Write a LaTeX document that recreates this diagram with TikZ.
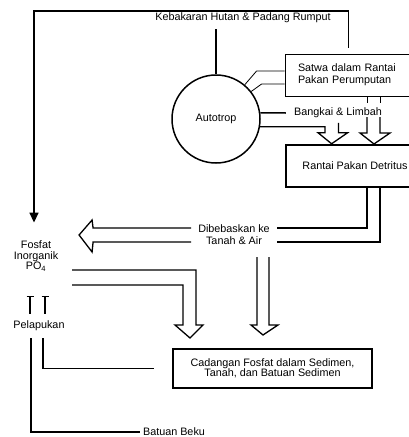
\documentclass[tikz,border=0pt]{standalone}
\usepackage{fontspec}
\setmainfont{Liberation Sans}
\usetikzlibrary{arrows.meta}
\usetikzlibrary{calc}
\tikzstyle{txt} = [align=center, inner sep=2pt]
\tikzstyle{pool} = [rectangle, black, draw, line width=1.5pt, align=center]
\tikzstyle{autotroph} = [circle, black, draw, line width=1.5pt,
                         minimum size=88pt, inner sep=0pt]
\tikzstyle{flow} = [line width=1.5pt]
\tikzstyle{hollow} = [line width=1.3pt, line join=miter]
\tikzstyle{thinline} = [line width=0.8pt]
\tikzstyle{medium} = [line width=1.1pt]

\begin{document}
\begin{tikzpicture}[x=1pt,y=-1pt,font=\fontsize{10.8}{12}\selectfont]
    \useasboundingbox (0,0) rectangle (409,437);
    \clip (0,0) rectangle (409,437);
    \node[txt] (fire) at (243,18) {Kebakaran Hutan \& Padang Rumput};
    \node[autotroph] (autotrop) at (216,119) {Autotrop};
    \node[pool, line width=0.8pt, text width=101pt, align=left, inner xsep=13pt,
          minimum height=42pt] (satwa) at (348.5,75) {Satwa dalam Rantai\\Pakan Perumputan};
    \node[txt, inner xsep=8pt] (bangkai) at (338,113) {Bangkai \& Limbah};
    \node[pool, minimum width=138pt, minimum height=42pt] (detritus) at (355,166) {Rantai Pakan Detritus};
    \node[txt, inner xsep=7pt] (bebas) at (234,235) {Dibebaskan ke\\Tanah \& Air};
    \node[txt, font=\fontsize{10.8}{10.5}\selectfont] (fosfat) at (36,256) {Fosfat\\Inorganik\\PO\textsubscript{4}};
    \node[txt, inner ysep=7pt] (pelapukan) at (39,326) {Pelapukan};
    \node[pool, minimum width=199pt, minimum height=39pt, font=\fontsize{10.8}{10.5}\selectfont]
          (cadangan) at (272.5,368.5) {Cadangan Fosfat dalam Sedimen,\\Tanah, dan Batuan Sedimen};
    \node[txt, inner xsep=3pt] (batuan) at (174,432) {Batuan Beku};
    % fire loop back to the phosphate pool
    \coordinate (corner) at (34,11);
    \draw[flow,-{Triangle[length=10pt,width=9pt]},shorten >=16pt] ([yshift=6pt]satwa.north) |- (corner) -- (fosfat.north -| corner);
    \draw[flow,shorten <=4pt] (fire.south -| autotrop.north) -- (autotrop.north);
    % grazing food chain
    \draw[thinline] (autotrop.50) -- ([xshift=-28pt,yshift=4pt]satwa.west) -- ([yshift=4pt]satwa.west);
    \draw[thinline] (autotrop.38) -- ([xshift=-23pt,yshift=-9pt]satwa.west) -- ([yshift=-9pt]satwa.west);
    \draw[flow] (autotrop.8) -- (bangkai.west);
    % into the detritus chain
    \draw[hollow] (autotrop.-10) -| ++(65,6) -- ++(-7,0) -- ++(13.5,11) -- ++(16,-11) -- ++(-9,0) -- ++(0,-10);
    \draw[thinline] (367,96) -- (367,103);
    \draw[thinline] (380,96) -- (380,103);
    \draw[hollow] (367,117) -- (367,133) -- (360,133) -- (374,144) -- (390,133) -- (380,133) -- (380,117);
    \draw[flow] ([xshift=12pt]detritus.south) |- ([yshift=7pt]bebas.east);
    \draw[flow] ([xshift=25pt]detritus.south) |- ([yshift=-7pt]bebas.east);
    % released to soil and water
    \draw[hollow] ([yshift=7pt]bebas.west) -- ++(-98,0) -- ++(-1,-8) -- ++(-13,15) -- ++(13,17) -- ++(1,-10) -- ([yshift=-7pt]bebas.west);
    \draw[hollow] (257,257) -- (257,325) -- (251,325) -- (263,335) -- (278,325) -- (269,325) -- (269,257);
    \draw[hollow] (72,270) -- (196,270) -- (196,325) -- (203,325) -- (190,338) -- (175,325) -- (183,325) -- (183,285) -- (72,285);
    % weathering
    \draw[medium,-{Bar[width=7pt]}] ([xshift=-9pt]pelapukan.north) -- ++(0,-18);
    \draw[medium,-{Bar[width=7pt]}] ([xshift=6pt]pelapukan.north) -- ++(0,-18);
    \draw[medium] ([xshift=-8pt]pelapukan.south) |- (batuan.west);
    \draw[medium] ([xshift=4pt]pelapukan.south) |- ([xshift=-18pt]cadangan.west);
\end{tikzpicture}
\end{document}
